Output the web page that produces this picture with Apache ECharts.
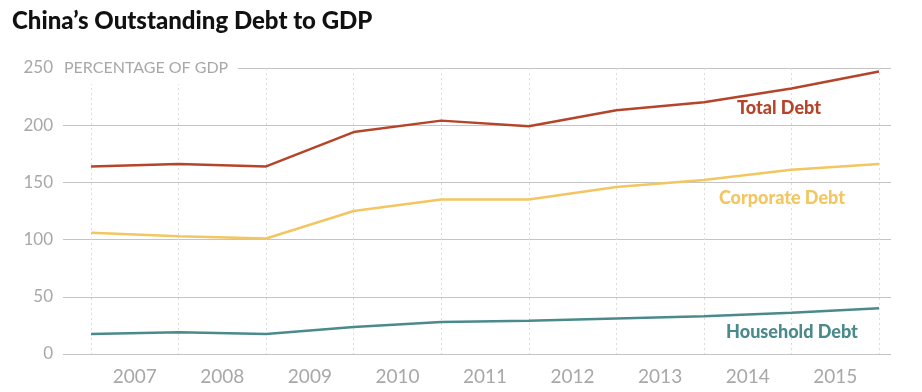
<!DOCTYPE html>
<html>
<head>
<meta charset="utf-8">
<script src="https://cdn.jsdelivr.net/npm/echarts@6/dist/echarts.min.js"></script>
<style>html,body{margin:0;padding:0;background:#fff;}#c{width:922px;height:392px;}</style>
</head>
<body>
<div id="c"></div>
<script>
const years = ['2007','2008','2009','2010','2011','2012','2013','2014','2015'];
const yTicks = [0, 50, 100, 150, 200, 250];
const totalDebt = [164, 166, 164, 194, 204, 199, 213, 220, 232, 247];
const corporateDebt = [106, 103, 101, 125, 135, 135, 146, 152, 161, 166];
const householdDebt = [17.5, 19, 17.5, 23.5, 28, 29, 31, 33, 36, 40];
const seriesNames = ['Total Debt', 'Corporate Debt', 'Household Debt'];
const colors = ['#b5452a', '#f2c660', '#4a8a8c'];

const chart = echarts.init(document.getElementById('c'));
const toPts = arr => arr.map((v, i) => [i, v]);
const FONT = 'Lato';
chart.setOption({
  animation: false,
  title: {
    text: "China\u2019s Outstanding Debt to GDP",
    left: 7, top: 4,
    textStyle: { fontFamily: FONT, fontWeight: 900, fontSize: 24, color: '#111' }
  },
  grid: [
    { left: 63, right: 31, top: 68, bottom: 38 },
    { left: 91, right: 43, top: 68, bottom: 38 }
  ],
  xAxis: [
    { gridIndex: 0, type: 'value', min: 0, max: 1, show: false },
    { gridIndex: 1, type: 'category', data: years, boundaryGap: true,
      axisLine: { show: false }, axisTick: { show: false },
      axisLabel: { color: '#a8a8a8', fontFamily: FONT, fontSize: 19, margin: 13 },
      splitLine: { show: true, lineStyle: { color: '#dcdcdc', type: [2, 3], width: 1 } } },
    { gridIndex: 1, type: 'value', min: 0, max: totalDebt.length - 1, show: false }
  ],
  yAxis: [
    { gridIndex: 0, type: 'value', min: yTicks[0], max: yTicks[yTicks.length - 1], interval: 50,
      axisLine: { show: false }, axisTick: { show: false },
      axisLabel: { color: '#a8a8a8', fontFamily: FONT, fontSize: 17, margin: 10 },
      splitLine: { lineStyle: { color: '#c4c4c4', width: 1 } } },
    { gridIndex: 1, type: 'value', min: yTicks[0], max: yTicks[yTicks.length - 1], show: false }
  ],
  series: [totalDebt, corporateDebt, householdDebt].map((arr, k) => ({
    name: seriesNames[k], type: 'line', xAxisIndex: 2, yAxisIndex: 1,
    data: toPts(arr), symbol: 'none', z: 5,
    lineStyle: { color: colors[k], width: 2.5 }
  })),
  graphic: [
    { type: 'rect', left: 58, top: 58, z: 100, shape: { width: 180, height: 26 }, style: { fill: '#fff' } },
    { type: 'text', left: 64, top: 60, z: 101,
      style: { text: 'PERCENTAGE OF GDP', fill: '#a8a8a8', font: '16px Lato' } },
    { type: 'text', x: 779, y: 108, z: 101,
      style: { text: seriesNames[0], fill: colors[0], font: '900 18px Lato', align: 'center', verticalAlign: 'middle' } },
    { type: 'text', x: 782, y: 198, z: 101,
      style: { text: seriesNames[1], fill: colors[1], font: '900 18px Lato', align: 'center', verticalAlign: 'middle' } },
    { type: 'text', x: 792, y: 332, z: 101,
      style: { text: seriesNames[2], fill: colors[2], font: '900 18px Lato', align: 'center', verticalAlign: 'middle' } }
  ]
});
</script>
</body>
</html>
